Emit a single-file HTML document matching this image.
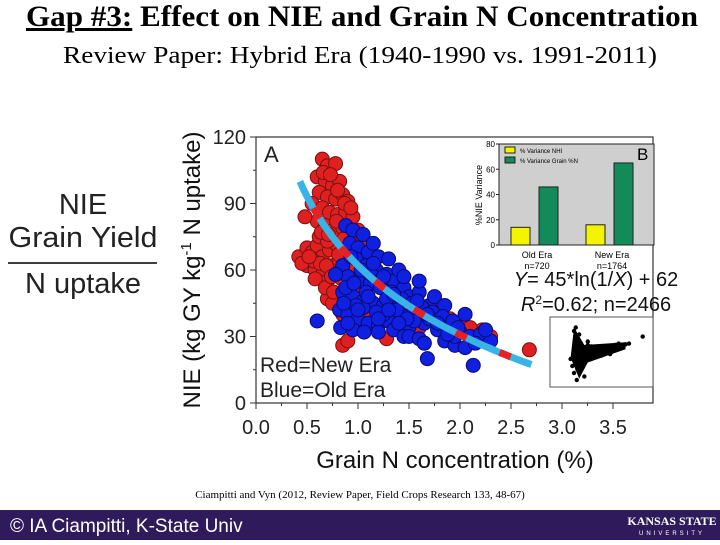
<!DOCTYPE html>
<html><head><meta charset="utf-8"><style>
body{margin:0;width:720px;height:540px;overflow:hidden;background:#fff;font-family:"Liberation Sans",sans-serif}
</style></head><body>
<svg id="s" width="720" height="540" xmlns="http://www.w3.org/2000/svg">
<text x="362" y="26" text-anchor="middle" font-family="Liberation Serif" font-weight="bold" font-size="30" textLength="672" lengthAdjust="spacingAndGlyphs"><tspan text-decoration="underline">Gap #3:</tspan> Effect on NIE and Grain N Concentration</text>
<text x="360" y="63" text-anchor="middle" font-family="Liberation Serif" font-size="24" textLength="594" lengthAdjust="spacingAndGlyphs">Review Paper: Hybrid Era (1940-1990 vs. 1991-2011)</text>
<g font-size="29" text-anchor="middle" fill="#222">
<text x="83" y="214">NIE</text><text x="83" y="247" textLength="149" lengthAdjust="spacingAndGlyphs">Grain Yield</text>
<line x1="8" y1="263" x2="157" y2="263" stroke="#000" stroke-width="1.5"/>
<text x="83" y="293">N uptake</text></g>
<g id="chart"></g>
<text x="360" y="498" text-anchor="middle" font-family="Liberation Serif" font-size="11">Ciampitti and Vyn (2012, Review Paper, Field Crops Research 133, 48-67)</text>
<rect x="0" y="510" width="720" height="30" fill="#2f1b5b"/>
<text x="10" y="532" fill="#fff" font-size="19">© IA Ciampitti, K-State Univ</text>
<text x="672" y="525" fill="#fff" font-family="Liberation Serif" font-weight="bold" font-size="12" text-anchor="middle">KANSAS STATE</text>
<text x="672" y="535" fill="#fff" font-size="6" letter-spacing="3" text-anchor="middle">UNIVERSITY</text>
</svg>
<script>
const xTicks=[0,0.5,1,1.5,2,2.5,3,3.5];
const xTickLabels=["0.0","0.5","1.0","1.5","2.0","2.5","3.0","3.5"];
const yTicks=[0,30,60,90,120];
const redX=[0.65,0.7,0.78,0.6,0.68,0.75,0.82,0.62,0.7,0.78,0.85,0.9,0.55,0.65,0.72,0.8,0.88,0.95,0.6,0.68,0.76,0.85,0.92,1.0,0.48,0.42,0.5,0.55,0.6,0.65,0.72,0.78,0.5,0.58,0.65,0.7,0.75,0.82,0.9,0.98,1.05,0.7,0.75,0.85,0.9,1.28,1.65,2.22,2.68,1.1,1.2,1.5,1.75,1.9,2.0,1.3,1.1,1.4,1.6,0.95,1.0,0.85,0.62,0.7,0.66,0.73,0.8,0.87,0.93,0.64,0.71,0.79,0.86,0.57,0.63,0.69,0.45,0.52,0.58,0.68,0.74,0.81,1.02,1.08,1.15,1.25,1.35,1.45,1.55,1.7,1.8,1.95,2.1,2.3,0.76,0.84];
const redY=[110,107,108,102,100,98,100,95,93,92,94,91,90,88,86,85,86,84,82,80,78,79,77,78,84,66,70,68,71,66,69,72,62,60,58,55,62,64,70,72,74,47,45,26,28,29,27,33,24,65,58,45,43,38,36,50,40,36,34,60,52,40,75,73,104,103,96,90,88,77,76,82,74,64,63,62,63,66,56,52,57,67,66,68,62,56,52,48,44,41,40,36,34,30,50,56];
const blueX=[0.88,0.95,1.05,0.92,1.0,1.1,1.2,0.98,1.08,1.18,1.28,0.85,0.9,1.0,1.12,1.22,1.35,1.45,0.85,0.95,1.05,1.15,1.25,1.38,1.5,1.6,0.82,0.9,1.0,1.1,1.2,1.3,1.42,1.55,1.7,1.8,1.2,1.35,1.5,1.65,1.78,1.9,2.0,2.1,1.85,1.95,2.05,2.2,2.3,0.6,0.83,1.68,2.13,0.78,1.3,1.15,1.4,1.6,1.7,1.45,2.15,0.95,1.25,1.55,1.75,1.05,1.85,2.05,1.95,0.93,1.03,1.13,1.23,1.33,1.43,1.53,1.63,1.73,1.83,1.93,0.88,0.98,1.08,1.18,1.28,1.38,1.48,1.58,1.68,1.78,1.88,1.98,0.9,1.0,1.1,1.2,1.3,1.4,1.5,1.6,1.15,1.25,1.35,0.86,0.96,1.06,2.25,1.65,1.45];
const blueY=[80,78,76,72,70,68,66,65,62,60,58,62,57,55,54,52,55,52,50,48,46,45,44,46,48,50,42,40,38,36,35,37,40,42,44,40,32,33,34,36,33,35,32,30,28,26,25,31,28,37,34,20,17,58,65,72,60,55,38,30,27,33,40,37,48,43,44,40,30,66,60,58,56,50,47,45,43,41,39,37,52,44,50,41,47,42,38,46,40,36,31,34,36,42,48,38,42,36,30,29,63,57,49,45,54,32,33,27,57];
const fitA=45, fitB=62, fitMin=0.43, fitMax=2.7;
const barGroups=["Old Era","New Era"];
const barN=["n=720","n=1764"];
const nhiVals=[14,16];
const grainVals=[46,65];
const insetYTicks=[0,20,40,60,80];
const residX=[0.7,0.75,0.8,0.85,0.9,0.95,1.0,1.1,1.2,1.3,1.4,1.5,1.6,1.7,1.8,1.9,2.0,2.1,2.2,2.3,0.6,0.65,0.7,0.8,0.9,1.0,1.2,1.5,0.75,0.85,1.1,0.78,2.7,1.75,0.95,0.72,0.8,0.9,1.05,1.3];
const residY=[30,20,10,0,-5,-15,5,10,8,5,3,6,7,8,5,10,12,9,11,12,-10,-20,-30,-25,-20,-35,-10,-5,35,25,15,-40,22,-3,-10,15,-12,12,-8,-5];

const NS="http://www.w3.org/2000/svg";
const g=document.getElementById('chart');
function el(t,a,p){const e=document.createElementNS(NS,t);for(const k in a)e.setAttribute(k,a[k]);(p||g).appendChild(e);return e;}
const X0=256,X1=358,Y0=403,YS=(403-137)/120;
const sx=v=>X0+(v)*(X1-X0);
const sy=v=>Y0-v*YS;
const frame=el('rect',{x:256,y:137,width:397,height:266,fill:'none',stroke:'#333','stroke-width':1.2});


xTicks.forEach((t,i)=>{
 el('line',{x1:sx(t),x2:sx(t),y1:403,y2:409,stroke:'#333'});
 if(i<xTicks.length-1)el('line',{x1:sx(t+0.25),x2:sx(t+0.25),y1:403,y2:406,stroke:'#333'});
 const tx=el('text',{x:sx(t),y:434,'text-anchor':'middle','font-size':20,fill:'#222'});tx.textContent=xTickLabels[i];
 
 
});
yTicks.forEach(t=>{
 el('line',{x1:250,x2:256,y1:sy(t),y2:sy(t),stroke:'#333'});
 if(t<120)el('line',{x1:253,x2:256,y1:sy(t+15),y2:sy(t+15),stroke:'#333'});
 const tx=el('text',{x:246,y:sy(t)+7,'text-anchor':'end','font-size':20,fill:'#222'});tx.textContent=t;
 
 
});
const xt=el('text',{x:455,y:468,'text-anchor':'middle','font-size':24,fill:'#111'});xt.textContent='Grain N concentration (%)';


const yt=el('text',{x:0,y:0,'text-anchor':'middle','font-size':24,fill:'#111',transform:'translate(200,270) rotate(-90)'});
yt.innerHTML='NIE (kg GY kg<tspan dy="-9" font-size="15">-1</tspan><tspan dy="9"> N uptake)</tspan>';


const la=el('text',{x:264,y:162,'font-size':22,fill:'#222'});la.textContent='A';


redX.forEach((v,i)=>{const c=el('circle',{cx:sx(v),cy:sy(redY[i]),r:7,fill:'#e02020',stroke:'#7a1010','stroke-width':1});
 
 });
blueX.forEach((v,i)=>{const c=el('circle',{cx:sx(v),cy:sy(blueY[i]),r:7,fill:'#1020e0',stroke:'#0a0a70','stroke-width':1});
 
 });
let d='';for(let k=0;k<=60;k++){const x=fitMin+(fitMax-fitMin)*k/60;d+=(k?'L':'M')+sx(x).toFixed(1)+','+sy(fitA*Math.log(1/x)+fitB).toFixed(1);}
const f1=el('path',{d:d,fill:'none',stroke:'#38b4e6','stroke-width':7});


const f2=el('path',{d:d,fill:'none',stroke:'#e82020','stroke-width':7,'stroke-dasharray':'12 36','stroke-dashoffset':'-30'});


const t1=el('text',{x:260,y:372,'font-size':21,fill:'#222'});t1.textContent='Red=New Era';


const t2=el('text',{x:260,y:397,'font-size':21,fill:'#222'});t2.textContent='Blue=Old Era';


const eq=el('text',{x:596,y:286,'text-anchor':'middle','font-size':20,fill:'#111'});eq.innerHTML='<tspan font-style="italic">Y</tspan>= 45*ln(1/<tspan font-style="italic">X</tspan>) + 62';


const r2=el('text',{x:596,y:311,'text-anchor':'middle','font-size':20,fill:'#111'});r2.innerHTML='<tspan font-style="italic">R</tspan><tspan dy="-7" font-size="12">2</tspan><tspan dy="7">=0.62; n=2466</tspan>';


const bx0=499,bx1=654,by0=245,by1=144;
const bsy=v=>by0-(v/80)*(by0-by1);
const ib=el('rect',{x:bx0,y:by1,width:bx1-bx0,height:by0-by1,fill:'#cfcfcf',stroke:'#222'});


insetYTicks.forEach(t=>{el('line',{x1:bx0-3,x2:bx0,y1:bsy(t),y2:bsy(t),stroke:'#222'});
 const tx=el('text',{x:bx0-4,y:bsy(t)+3,'text-anchor':'end','font-size':8});tx.textContent=t;
 
 });
const iyt=el('text',{x:0,y:0,'text-anchor':'middle','font-size':9,transform:'translate(482,195) rotate(-90)'});iyt.textContent='%NIE Variance';


const gc=[537,612];
barGroups.forEach((n,i)=>{
 const b1=el('rect',{x:gc[i]-26,y:bsy(nhiVals[i]),width:19,height:by0-bsy(nhiVals[i]),fill:'#f4f400',stroke:'#222'});
 
 
 const b2=el('rect',{x:gc[i]+2,y:bsy(grainVals[i]),width:19,height:by0-bsy(grainVals[i]),fill:'#128a5a',stroke:'#222'});
 
 
 const l=el('text',{x:gc[i],y:258,'text-anchor':'middle','font-size':9});l.textContent=n;
 
 
 const l2=el('text',{x:gc[i],y:269,'text-anchor':'middle','font-size':9});l2.textContent=barN[i];
 
 
});
el('rect',{x:505,y:147,width:10,height:6,fill:'#f4f400',stroke:'#222'});
el('rect',{x:505,y:157,width:10,height:6,fill:'#128a5a',stroke:'#222'});
const lg1=el('text',{x:520,y:153,'font-size':6});lg1.textContent='% Variance NHI';


const lg2=el('text',{x:520,y:163,'font-size':6});lg2.textContent='% Variance Grain %N';


const lb=el('text',{x:637,y:160,'font-size':17});lb.textContent='B';


const rx0=550,rx1=653,ry0=317,ry1=387;
const rsx=v=>rx0+v/3*(rx1-rx0), rsy=v=>(ry0+ry1)/2-v/100*(ry1-ry0);
const rb=el('rect',{x:rx0,y:ry0,width:rx1-rx0,height:ry1-ry0,fill:'#fff',stroke:'#555'});


el('path',{d:`M${rsx(0.7)},${rsy(35)} L${rsx(1.0)},${rsy(10)} L${rsx(2.2)},${rsy(14)} L${rsx(2.2)},${rsy(4)} L${rsx(1.1)},${rsy(-15)} L${rsx(0.85)},${rsy(-38)} L${rsx(0.6)},${rsy(-8)} Z`,fill:'#000'});
residX.forEach((v,i)=>{const c=el('circle',{cx:rsx(v),cy:rsy(residY[i]),r:2.2,fill:'#000'});
 
 });
</script>
</body></html>
